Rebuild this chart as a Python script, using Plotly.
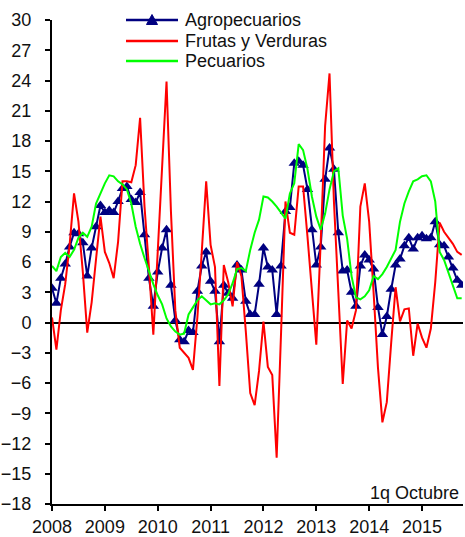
import plotly.graph_objects as go

years = ["2008", "2009", "2010", "2011", "2012", "2013", "2014", "2015"]
months = list(range(94))  # monthly index from Jan 2008 to Oct 2015 (1q)

agropecuarios = [3.4, 1.9, 4.4, 5.8, 7.5, 8.9, 8.8, 7.9, 4.6, 7.4, 9.5, 11.6,
                 10.9, 11.1, 10.9, 12.0, 13.3, 13.5, 12.2, 11.9, 12.9, 8.7, 4.4, 1.6,
                 5.0, 7.4, 9.2, 3.7, 0.2, -1.7, -1.9, -0.8, -1.0, 3.1, 5.6, 7.0,
                 4.1, 3.1, -1.9, 3.7, 2.9, 2.4, 5.7, 5.2, 2.1, 0.8, 0.8, 3.8,
                 7.4, 5.5, 5.2, 0.8, 5.6, 11.0, 11.4, 15.8, 16.0, 15.6, 13.2, 9.2,
                 5.7, 7.5, 14.2, 17.3, 15.2, 8.9, 5.1, 5.2, 3.0, 1.6, 5.6, 6.7,
                 6.2, 5.3, 1.5, -1.2, 0.6, 3.3, 5.7, 6.3, 7.6, 8.4, 7.3, 8.4,
                 8.6, 8.3, 8.4, 10.0, 7.7, 7.6, 6.5, 5.4, 4.2, 3.7]

frutas_verduras = [0.5, -2.7, 1.2, 3.8, 7.7, 12.8, 10.0, 5.0, -1.0, 2.0, 6.3, 10.5,
                   7.0, 5.9, 4.4, 8.0, 14.0, 14.0, 13.9, 15.6, 20.3, 11.5, 5.5, -1.2,
                   7.0, 16.0, 23.9, 11.0, 1.2, -2.5, -3.0, -3.5, -4.7, 0.5, 7.0, 14.0,
                   7.7, 5.5, -6.3, 5.7, 4.0, 1.6, 6.0, 4.6, -0.9, -7.0, -8.2, -4.8,
                   0.1, -4.4, -5.2, -13.4, -1.0, 12.0, 8.9, 8.7, 13.5, 13.5, 8.5, 3.0,
                   -2.2, 8.0, 19.5, 24.7, 12.0, 3.0, -6.1, 0.2, -0.6, 1.2, 11.5, 13.8,
                   10.0, 3.0, -4.5, -9.9, -7.9, -2.0, 3.5, 0.1, 1.3, 1.4, -3.3, -0.1,
                   -1.5, -2.5, -0.6, 4.0, 9.9, 9.0, 8.4, 7.8, 7.0, 6.7]

pecuarios = [5.6, 5.1, 6.5, 6.9, 6.5, 7.2, 8.4, 8.9, 8.5, 9.5, 11.8, 12.8,
             13.8, 14.6, 14.5, 14.0, 13.7, 13.2, 11.8, 9.5, 7.8, 6.4, 5.0, 3.8,
             2.7, 1.8, 0.4, -0.4, -0.9, -1.2, -1.1, 0.8, 1.5, 2.2, 2.6, 2.2,
             1.8, 1.9, 1.8, 2.2, 2.8, 3.9, 5.3, 5.4, 5.1, 7.2, 8.9, 10.2,
             12.5, 12.4, 12.0, 11.5, 10.9, 10.3, 12.8, 13.8, 17.7, 17.1, 15.2, 12.5,
             10.5, 9.2, 10.8, 13.2, 15.0, 15.3, 10.6, 8.3, 4.6, 2.5, 2.3, 2.6,
             3.2, 4.6, 4.3, 4.8, 5.5, 6.3, 7.2, 10.0, 11.8, 13.0, 14.0, 14.2,
             14.5, 14.6, 14.0, 12.0, 7.0, 6.2, 4.9, 3.5, 2.4, 2.4]

series_names = ["Agropecuarios", "Frutas y Verduras", "Pecuarios"]
series_colors = ["#000080", "#FF0000", "#00FF00"]

FONT = "Liberation Sans, Arial, sans-serif"
W, H = 465, 537
ML, MR, MT, MB = 52, 2, 20, 33
PW, PH = W - ML - MR, H - MT - MB


def px_x(px):
    return (px - ML) / PW


def px_y(py):
    return (H - MB - py) / PH


fig = go.Figure()
fig.add_trace(go.Scatter(x=months, y=agropecuarios, name=series_names[0],
                         mode="lines+markers",
                         line=dict(color=series_colors[0], width=2),
                         marker=dict(symbol="triangle-up", size=10, color=series_colors[0])))
fig.add_trace(go.Scatter(x=months, y=frutas_verduras, name=series_names[1],
                         mode="lines", line=dict(color=series_colors[1], width=2)))
fig.add_trace(go.Scatter(x=months, y=pecuarios, name=series_names[2],
                         mode="lines", line=dict(color=series_colors[2], width=2)))

# legend drawn as shapes + text (matches the reference's compact spacing)
shapes = []
annotations = []
legend_rows = [20, 41, 61]
for name, color, ry in zip(series_names, series_colors, legend_rows):
    shapes.append(dict(type="line", xref="paper", yref="paper",
                       x0=px_x(126), x1=px_x(178), y0=px_y(ry), y1=px_y(ry),
                       line=dict(color=color, width=2.5)))
    annotations.append(dict(text=name, xref="paper", yref="paper",
                            x=px_x(183), y=px_y(ry), xanchor="left", yanchor="middle",
                            showarrow=False, font=dict(size=18, color="#111111")))
cx, cy = 152, legend_rows[0]
tri = "M {} {} L {} {} L {} {} Z".format(px_x(cx - 5.5), px_y(cy + 4.5),
                                         px_x(cx + 5.5), px_y(cy + 4.5),
                                         px_x(cx), px_y(cy - 5.5))
shapes.append(dict(type="path", xref="paper", yref="paper", path=tri,
                   fillcolor=series_colors[0], line=dict(color=series_colors[0], width=1)))

annotations.append(dict(text="1q Octubre", xref="paper", yref="paper",
                        x=px_x(461), y=px_y(493), xanchor="right", yanchor="middle",
                        showarrow=False, font=dict(size=18, color="#111111")))

fig.update_layout(
    width=W, height=H,
    margin=dict(l=ML, r=MR, t=MT, b=MB),
    paper_bgcolor="white", plot_bgcolor="white",
    font=dict(family=FONT, size=18, color="#111111"),
    showlegend=False,
    xaxis=dict(range=[0, 93.3], tickvals=[0, 12, 24, 36, 48, 60, 72, 84],
               ticktext=years, showgrid=False, zeroline=False, automargin=False,
               showline=True, linecolor="black", linewidth=2,
               ticks="outside", ticklen=5, tickwidth=2, tickcolor="black",
               tickfont=dict(size=18)),
    yaxis=dict(range=[-18, 30], dtick=3, tick0=0, showgrid=False, automargin=False,
               zeroline=True, zerolinecolor="black", zerolinewidth=2,
               showline=True, linecolor="black", linewidth=2,
               ticks="outside", ticklen=5, tickwidth=2, tickcolor="black",
               ticklabelstandoff=10, tickfont=dict(size=18)),
    shapes=shapes,
    annotations=annotations,
)

fig.write_html("out.html",
               config={"displayModeBar": False, "staticPlot": True},
               post_script="document.body.style.margin='0';document.body.style.overflow='hidden';")
